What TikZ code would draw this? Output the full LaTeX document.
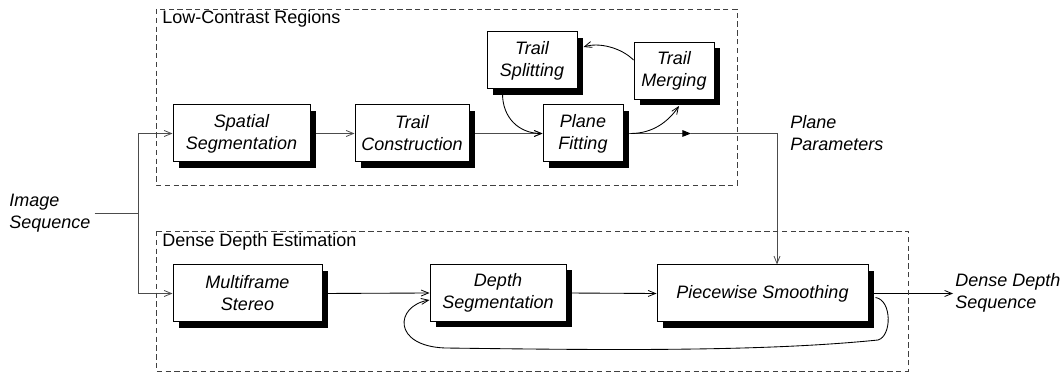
\documentclass[tikz,border=0pt]{standalone}
\usepackage{fontspec}
\setmainfont{Liberation Sans}
\usetikzlibrary{arrows.meta,shadows,calc}
\definecolor{flowgray}{gray}{0.3}
\definecolor{framegray}{gray}{0.25}
\pgfdeclarelayer{paper}
\pgfdeclarelayer{wires}
\pgfsetlayers{paper,wires,main}
\begin{document}
\begin{tikzpicture}[x=0.75pt,y=-0.75pt,
  font=\fontsize{13.5pt}{16.5pt}\selectfont,
  stage/.style={draw=black, line width=0.75pt, fill=white, align=center,
    inner sep=0pt, minimum height=42.75pt,
    font=\fontsize{13.5pt}{16.5pt}\selectfont\itshape,
    general shadow={fill=black, shadow xshift=4.5pt, shadow yshift=-4.5pt}},
  group/.style={draw=framegray, line width=0.6pt, dash pattern=on 4pt off 2.6pt},
  grouptitle/.style={anchor=west, inner sep=0pt},
  ioname/.style={anchor=west, inner sep=0pt, align=left,
    font=\fontsize{13.5pt}{16.5pt}\selectfont\itshape},
  wire/.style={line width=0.65pt, draw=black},
  topwire/.style={line width=0.7pt, draw=flowgray},
  barb/.style={-{Straight Barb[length=5.5pt,width=4.5pt,line width=0.6pt]}},
  filltip/.style={-{Triangle[length=6.5pt,width=5pt,black]}}
]
\begin{pgfonlayer}{paper}
  \fill[white] (0,0) rectangle (1063,373);
\end{pgfonlayer}
\useasboundingbox (0,0) rectangle (1063,373);

% processing groups
\draw[group] (156,9) rectangle (737,185);
\node[grouptitle] (lowtitle) at (162,19) {Low-Contrast Regions};
\draw[group] (156,231) rectangle (908,371);
\node[grouptitle] (densetitle) at (162,242) {Dense Depth Estimation};

% stages
\node[stage, minimum width=102.75pt] (SS) at (241.5,133.5) {Spatial\\Segmentation};
\node[stage, minimum width=85.5pt]   (TC) at (412,133.5)   {Trail\\Construction};
\node[stage, minimum width=60pt]     (PF) at (583,133.5)   {Plane\\Fitting};
\node[stage, minimum width=67.5pt]   (TS) at (532,60.5)    {Trail\\Splitting};
\node[stage, minimum width=60pt]     (TM) at (674,71)      {Trail\\Merging};
\node[stage, minimum width=111.75pt] (MS) at (247.5,293.5) {Multiframe\\Stereo};
\node[stage, minimum width=102pt]    (DS) at (498,293)     {Depth\\Segmentation};
\node[stage, minimum width=158.25pt] (PS) at (762.5,293.5) {Piecewise Smoothing};

% inputs and outputs
\node[ioname] (img) at (9,213) {Image\\Sequence};
\node[ioname] (params) at (790,133.5) {Plane\\Parameters};
\node[ioname] (out) at (955,292.5) {Dense Depth\\Sequence};

\coordinate (split) at (138,213);
\coordinate (mid) at (691,133.5);
\coordinate (bend) at (777,133.5);
\coordinate (outtip) at (953,293.5);

\begin{pgfonlayer}{wires}
  % input fan-out
  \draw[topwire] ($(img.east)+(4,0)$) -- (split);
  \draw[topwire,barb] (split) |- (SS.west);
  \draw[topwire,barb] (split) |- (MS.west);

  % low-contrast chain
  \draw[topwire,barb] (SS.east) -- (TC.west);
  \draw[topwire,barb] (TC.east) -- (PF.west);
  \draw[topwire,filltip] (PF.east) -- (mid);
  \draw[topwire,barb] (mid) -- (bend) -- (bend |- PS.north);

  % trail refinement loop
  \draw[wire,barb] ($(TS.south west)+(16,4)$) .. controls +(0,24) and +(-24,0) .. (PF.west);
  \draw[wire,barb] ($(PF.east)+(7,0)$) .. controls +(22,0) and +(-11,16) .. ($(TM.south)+(5,6)$);
  \draw[wire,barb] ($(TM.west)+(0,-11)$) .. controls +(-12,-12) and +(16,-5) .. ($(TS.east)+(6,-13.5)$);

  % dense depth chain
  \draw[wire,barb] (MS.east) -- (DS.west);
  \draw[wire,barb] (DS.east) -- (PS.west);
  \draw[wire,barb] (PS.east) -- (outtip);

  % smoothing feedback
  \draw[wire,barb] ($(PS.east)+(7,4)$) .. controls (892,300) and (892,336) .. (878,340)
     .. controls (760,352) and (600,350) .. (445,348)
     .. controls (392,346) and (395,306) .. ($(DS.west)+(0,7)$);
\end{pgfonlayer}
\end{tikzpicture}
\end{document}
